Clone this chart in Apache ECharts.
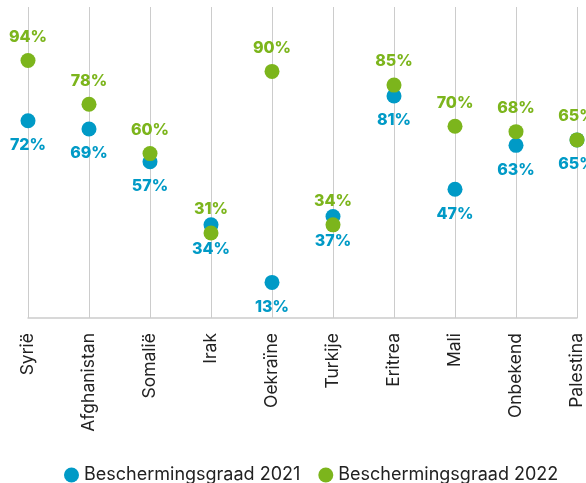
<!DOCTYPE html>
<html>
<head>
<meta charset="utf-8">
<script src="https://cdn.jsdelivr.net/npm/echarts@6/dist/echarts.min.js"></script>
<style>
html, body { margin: 0; padding: 0; background: #fff; }
#main { width: 586px; height: 483px; }
</style>
</head>
<body>
<div id="main"></div>
<script>
// landen en beschermingsgraad (%)
var landen = ['Syrië', 'Afghanistan', 'Somalië', 'Irak', 'Oekraïne', 'Turkije', 'Eritrea', 'Mali', 'Onbekend', 'Palestina'];
var graad2021 = [72, 69, 57, 34, 13, 37, 81, 47, 63, 65];
var graad2022 = [94, 78, 60, 31, 90, 34, 85, 70, 68, 65];

var blauw = '#009ac6';
var groen = '#7cb51c';

var myChart = echarts.init(document.getElementById('main'));

var option = {
    animation: false,
    textStyle: { fontFamily: 'Inter' },
    grid: {
        left: 28,
        right: 9,
        top: 7,
        bottom: 165
    },
    legend: {
        top: 461,
        left: 59,
        icon: 'circle',
        itemWidth: 15,
        itemHeight: 15,
        itemGap: 18,
        textStyle: { fontSize: 18, color: '#222', fontFamily: 'Inter' },
        data: ['Beschermingsgraad 2021', 'Beschermingsgraad 2022']
    },
    xAxis: {
        type: 'category',
        boundaryGap: false,
        data: landen,
        axisLine: { lineStyle: { color: '#cccccc', width: 1.5 } },
        axisTick: { show: false },
        splitLine: { show: true, lineStyle: { color: '#cccccc', width: 1 } },
        axisLabel: {
            rotate: 90,
            margin: 15,
            interval: 0,
            fontSize: 17.5,
            color: '#222',
            fontFamily: 'Inter'
        }
    },
    yAxis: {
        type: 'value',
        min: 0,
        max: 113.5,
        show: false,
        splitLine: { show: false }
    },
    series: [
        {
            name: 'Beschermingsgraad 2021',
            type: 'scatter',
            symbolSize: 15,
            data: graad2021,
            itemStyle: { color: blauw, opacity: 1 },
            label: {
                show: true,
                position: 'bottom',
                distance: 9,
                formatter: '{c}%',
                color: blauw,
                fontSize: 16,
                fontWeight: 800,
                fontFamily: 'Inter'
            },
            z: 2
        },
        {
            name: 'Beschermingsgraad 2022',
            type: 'scatter',
            symbolSize: 15,
            data: graad2022,
            itemStyle: { color: groen, opacity: 1 },
            label: {
                show: true,
                position: 'top',
                distance: 8,
                formatter: '{c}%',
                color: groen,
                fontSize: 16,
                fontWeight: 800,
                fontFamily: 'Inter'
            },
            z: 3
        }
    ]
};

myChart.setOption(option);
</script>
</body>
</html>
